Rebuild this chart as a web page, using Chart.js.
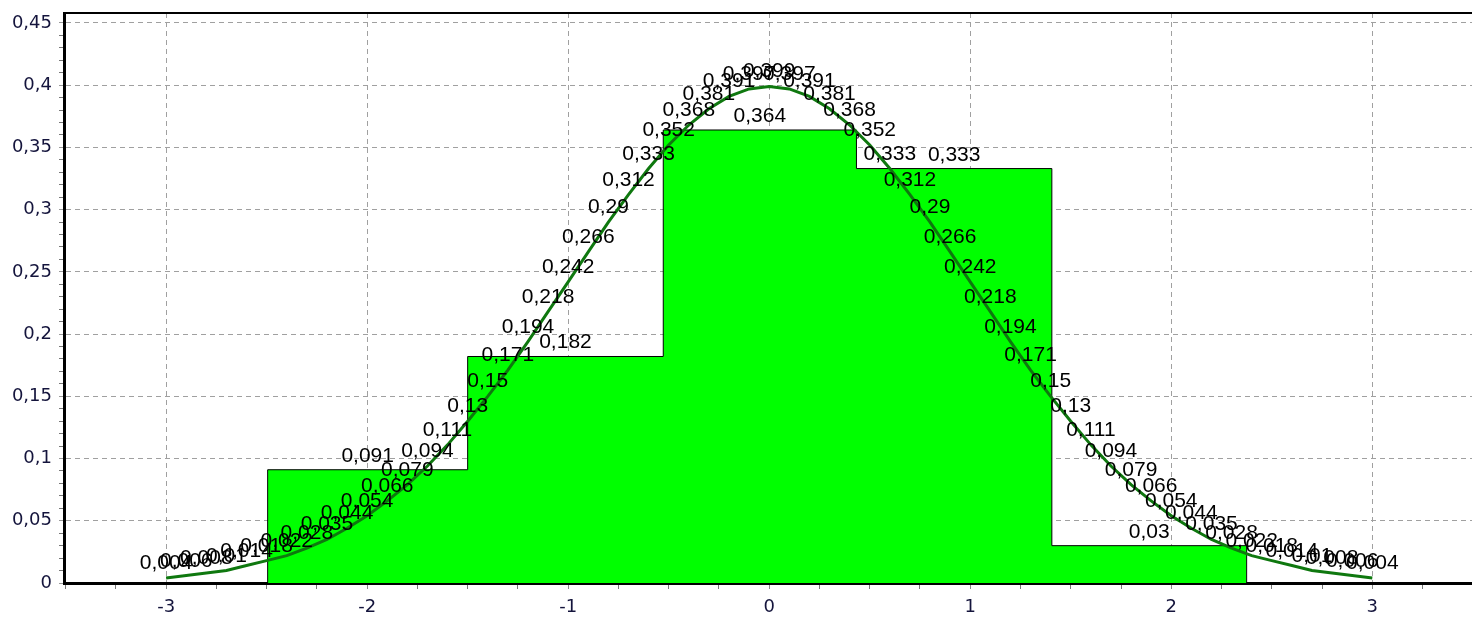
<!DOCTYPE html>
<html>
<head>
<meta charset="utf-8">
<script src="https://cdn.jsdelivr.net/npm/chart.js@4"></script>
<style>
  html, body { margin: 0; padding: 0; background: #fff; }
  #wrap { width: 1472px; height: 617px; }
</style>
</head>
<body>
<div id="wrap"><canvas id="histChart" width="1472" height="617"></canvas></div>
<script>
// histogram bins (edges) and relative frequencies
const binEdges = [-2.495, -1.5, -0.527, 0.434, 1.406, 2.375];
const binFreq = [0.091, 0.182, 0.364, 0.333, 0.03];

// density curve points, values as printed next to each point
const curveX = [-3, -2.9, -2.8, -2.7, -2.6, -2.5, -2.4, -2.3, -2.2, -2.1,
  -2, -1.9, -1.8, -1.7, -1.6, -1.5, -1.4, -1.3, -1.2, -1.1,
  -1, -0.9, -0.8, -0.7, -0.6, -0.5, -0.4, -0.3, -0.2, -0.1,
  0, 0.1, 0.2, 0.3, 0.4, 0.5, 0.6, 0.7, 0.8, 0.9,
  1, 1.1, 1.2, 1.3, 1.4, 1.5, 1.6, 1.7, 1.8, 1.9,
  2, 2.1, 2.2, 2.3, 2.4, 2.5, 2.6, 2.7, 2.8, 2.9, 3];
const curveY = [0.004, 0.006, 0.008, 0.01, 0.014, 0.018, 0.022, 0.028, 0.035, 0.044,
  0.054, 0.066, 0.079, 0.094, 0.111, 0.13, 0.15, 0.171, 0.194, 0.218,
  0.242, 0.266, 0.29, 0.312, 0.333, 0.352, 0.368, 0.381, 0.391, 0.397,
  0.399, 0.397, 0.391, 0.381, 0.368, 0.352, 0.333, 0.312, 0.29, 0.266,
  0.242, 0.218, 0.194, 0.171, 0.15, 0.13, 0.111, 0.094, 0.079, 0.066,
  0.054, 0.044, 0.035, 0.028, 0.022, 0.018, 0.014, 0.01, 0.008, 0.006, 0.004];

const xMin = -3.508, xMax = 3.496;
const yMin = 0, yMax = 0.458;

function fmt(v, dec) {
  let s = v.toFixed(dec);
  if (s.indexOf(".") >= 0) s = s.replace(/0+$/, "").replace(/\.$/, "");
  return s.replace(".", ",");
}

// step outline for the histogram
const histPoints = [{ x: binEdges[0], y: 0 }];
binFreq.forEach((f, i) => histPoints.push({ x: binEdges[i], y: f }));
histPoints.push({ x: binEdges[binEdges.length - 1], y: binFreq[binFreq.length - 1] });
histPoints.push({ x: binEdges[binEdges.length - 1], y: 0 });

const curvePoints = curveX.map((x, i) => ({ x: x, y: curveY[i] }));

const labelPlugin = {
  id: "valueLabels",
  afterDatasetsDraw(chart) {
    const ctx = chart.ctx;
    const xs = chart.scales.x, ys = chart.scales.y;
    ctx.save();
    ctx.fillStyle = "#000";
    ctx.font = "21px 'Liberation Sans', Arial, sans-serif";
    ctx.textAlign = "center";
    ctx.textBaseline = "alphabetic";
    binFreq.forEach((f, i) => {
      const cx = xs.getPixelForValue((binEdges[i] + binEdges[i + 1]) / 2);
      ctx.fillText(fmt(f, 3), cx, ys.getPixelForValue(f) - 8);
    });
    curvePoints.forEach((p) => {
      ctx.fillText(fmt(p.y, 3), xs.getPixelForValue(p.x), ys.getPixelForValue(p.y) - 9);
    });
    ctx.restore();
  },
  afterDraw(chart) {
    const a = chart.chartArea, ctx = chart.ctx;
    ctx.save();
    ctx.strokeStyle = "#000";
    ctx.lineWidth = 2;
    ctx.beginPath();
    ctx.moveTo(a.left, a.top);
    ctx.lineTo(a.right, a.top);
    ctx.stroke();
    ctx.restore();
  }
};

const isMajorY = (v) => Math.round(v * 100) % 5 === 0;
const isMajorX = (v) => Math.abs(v - Math.round(v)) < 1e-6;

new Chart(document.getElementById("histChart"), {
  type: "line",
  data: {
    datasets: [
      {
        data: curvePoints,
        borderColor: "#0f780f",
        borderWidth: 3,
        pointRadius: 0,
        tension: 0,
        fill: false,
        order: 1
      },
      {
        data: histPoints,
        stepped: true,
        borderColor: "#000",
        borderWidth: 1,
        backgroundColor: "#00ff00",
        pointRadius: 0,
        fill: "origin",
        order: 2
      }
    ]
  },
  options: {
    responsive: false,
    animation: false,
    layout: { padding: { top: 13, right: 0, left: 0, bottom: 0 } },
    plugins: { legend: { display: false }, tooltip: { enabled: false } },
    scales: {
      x: {
        type: "linear",
        min: xMin,
        max: xMax,
        afterFit: (s) => { s.height = 34; s.paddingRight = 0; s.paddingLeft = 0; },
        ticks: {
          stepSize: 0.25,
          autoSkip: false,
          maxRotation: 0,
          includeBounds: false,
          padding: 8,
          color: "#14143c",
          font: { family: "'DejaVu Sans', sans-serif", size: 18 },
          callback: (v) => (isMajorX(v) ? String(Math.round(v)) : "")
        },
        grid: {
          color: (c) => (isMajorX(c.tick.value) ? "#a0a0a0" : "rgba(0,0,0,0)"),
          tickColor: (c) => (isMajorX(c.tick.value) ? "#888" : "#777"),
          tickLength: 6,
          lineWidth: 1
        },
        border: { color: "#000", width: 3, dash: [5, 4] }
      },
      y: {
        min: yMin,
        max: yMax,
        afterFit: (s) => { s.width = 64; s.paddingTop = 0; s.paddingBottom = 0; },
        ticks: {
          stepSize: 0.01,
          autoSkip: false,
          includeBounds: false,
          padding: 7,
          color: "#14143c",
          font: { family: "'DejaVu Sans', sans-serif", size: 18 },
          callback: (v) => (isMajorY(v) ? fmt(v, 2) : "")
        },
        grid: {
          color: (c) => (isMajorY(c.tick.value) && c.tick.value > 0 ? "#a0a0a0" : "rgba(0,0,0,0)"),
          tickColor: (c) => (isMajorY(c.tick.value) ? "#999" : "#777"),
          tickLength: 5,
          lineWidth: 1
        },
        border: { color: "#000", width: 3, dash: [5, 4] }
      }
    }
  },
  plugins: [labelPlugin]
});
</script>
</body>
</html>
